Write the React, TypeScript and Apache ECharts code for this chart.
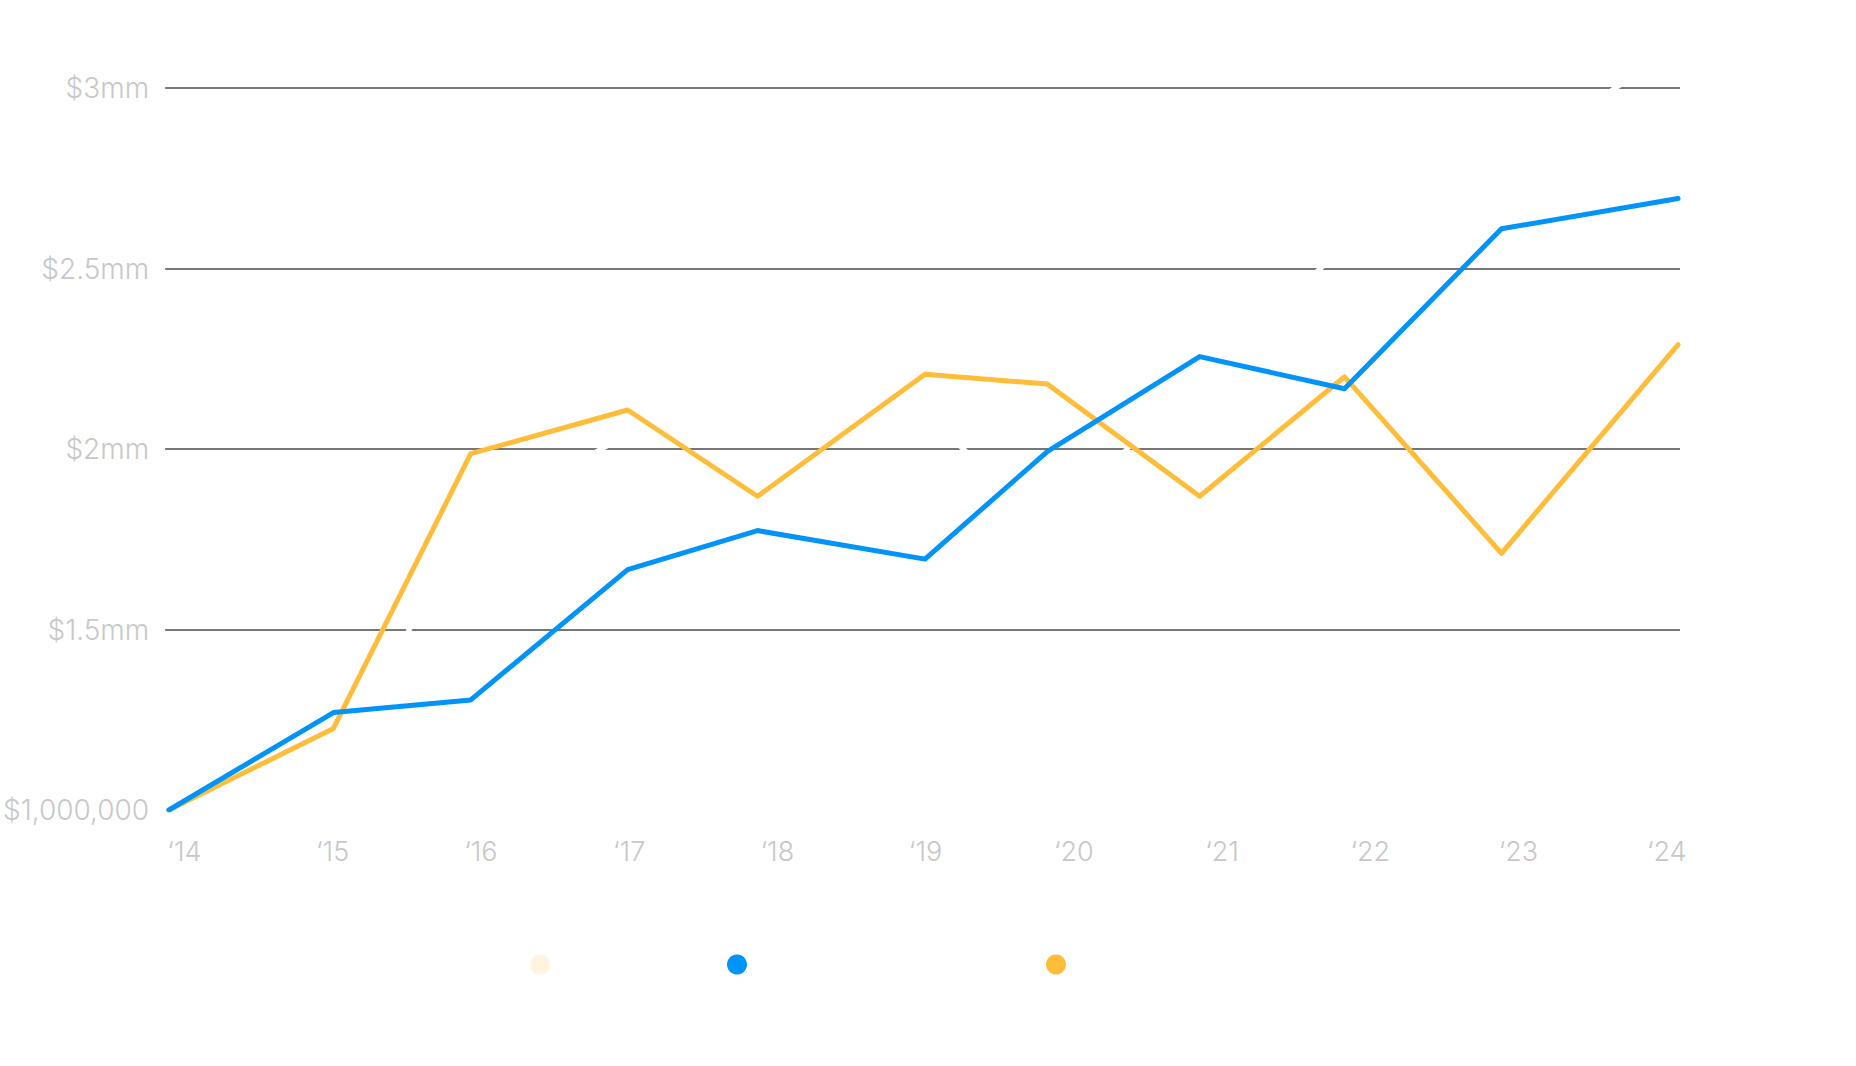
import React, { useEffect, useRef } from "react";
import * as echarts from "echarts";

// Data point dates as fractional years (shared by all series)
const pointYears = [2014.0, 2015.09, 2016.0, 2017.04, 2017.9, 2019.01, 2019.82, 2020.83, 2021.79, 2022.83, 2024.0];
const yearLabels = ["\u201814", "\u201815", "\u201816", "\u201817", "\u201818", "\u201819", "\u201820", "\u201821", "\u201822", "\u201823", "\u201824"];
const seriesNames = ["Target", "Portfolio", "Benchmark"];
const targetValues = [1.0, 1.13, 1.8, 2.04, 2.2, 2.1, 1.78, 2.2, 2.56, 2.8, 3.11];
const portfolioValues = [1.0, 1.27, 1.305, 1.666, 1.774, 1.695, 1.993, 2.256, 2.167, 2.61, 2.694];
const benchmarkValues = [1.0, 1.226, 1.987, 2.108, 1.869, 2.207, 2.18, 1.869, 2.2, 1.711, 2.289];
const yTicks = [1000000, 1500000, 2000000, 2500000, 3000000];
const yTickLabels = ["$1,000,000", "$1.5mm", "$2mm", "$2.5mm", "$3mm"];

const toPairs = (vals: number[]) => vals.map((v, i) => [pointYears[i], v * 1000000]);

export default function App() {
  const ref = useRef<HTMLDivElement>(null);
  useEffect(() => {
    if (!ref.current) return;
    const chart = echarts.init(ref.current, undefined, { renderer: "svg" });
    const font = "Inter, 'Noto Sans', sans-serif";
    const legendLefts = [525, 722, 1041];
    chart.setOption({
      animation: false,
      backgroundColor: "#ffffff",
      grid: { left: 163, right: 176, top: 88, bottom: 256, containLabel: false },
      xAxis: [
        {
          type: "value",
          min: 2013.975,
          max: 2024.013,
          axisLine: { show: false },
          axisTick: { show: false },
          axisLabel: { show: false },
          splitLine: { show: false },
        },
        {
          type: "value",
          min: -0.13,
          max: 10.0896,
          position: "bottom",
          axisLine: { show: false },
          axisTick: { show: false },
          splitLine: { show: false },
          axisLabel: {
            customValues: yearLabels.map((_, i) => i),
            formatter: (v: number) => yearLabels[Math.round(v)] ?? "",
            color: "#c8c8c8",
            fontSize: 27,
            fontFamily: font,
            fontWeight: 300,
            margin: 28,
          },
        },
      ],
      yAxis: {
        type: "value",
        min: 1000000,
        max: 3000000,
        interval: 500000,
        axisLine: { show: false },
        axisTick: { show: false },
        axisLabel: {
          formatter: (v: number) => {
            const i = yTicks.indexOf(v);
            return i >= 0 ? yTickLabels[i] : "";
          },
          color: "#c8c8c8",
          fontSize: 28,
          fontFamily: font,
          fontWeight: 300,
          margin: 16,
        },
        splitLine: { show: true, showMinLine: false, lineStyle: { color: "#4a4a4a", width: 1.5 } },
      },
      legend: seriesNames.map((name, i) => ({
        left: legendLefts[i],
        top: 946,
        icon: "circle",
        itemWidth: 20,
        itemHeight: 20,
        textStyle: { color: "#ffffff", fontSize: 27, fontFamily: font },
        data: [name],
      })),
      series: [
        {
          name: seriesNames[0],
          type: "line",
          data: toPairs(targetValues),
          showSymbol: false,
          itemStyle: { color: "#FFF4DF" },
          lineStyle: { color: "#ffffff", width: 5 },
          z: 1,
        },
        {
          name: seriesNames[1],
          type: "line",
          data: toPairs(portfolioValues),
          showSymbol: false,
          itemStyle: { color: "#0094FA" },
          lineStyle: { color: "#0094FA", width: 5, cap: "round", join: "round" },
          z: 3,
        },
        {
          name: seriesNames[2],
          type: "line",
          data: toPairs(benchmarkValues),
          showSymbol: false,
          itemStyle: { color: "#FFBD3A" },
          lineStyle: { color: "#FFBD3A", width: 5, cap: "round", join: "round" },
          z: 2,
        },
      ],
    });
    return () => chart.dispose();
  }, []);
  return (
    <div
      ref={ref}
      style={{ position: "fixed", left: 0, top: 0, width: 1856, height: 1066 }}
    />
  );
}
